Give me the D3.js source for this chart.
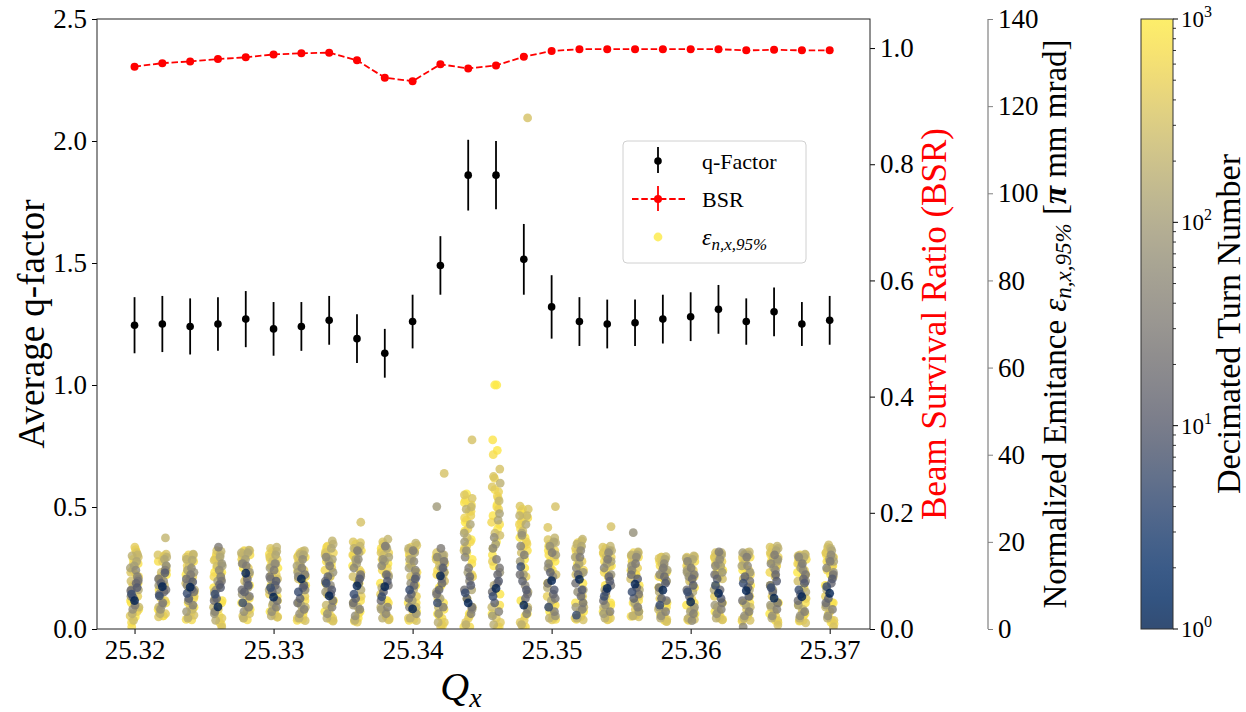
<!DOCTYPE html>
<html><head><meta charset="utf-8">
<script src="https://cdn.jsdelivr.net/npm/d3@7"></script>
<style>
body{margin:0;background:#fff}
svg{display:block}
text{font-family:"Liberation Serif","Times New Roman",serif;fill:#000}
</style>
</head><body>
<svg id="chart" width="1246" height="712"></svg>
<script>
// ---------------- DATA ----------------
const qx = [25.320,25.322,25.324,25.326,25.328,25.330,25.332,25.334,25.336,25.338,25.340,25.342,25.344,
            25.346,25.348,25.350,25.352,25.354,25.356,25.358,25.360,25.362,25.364,25.366,25.368,25.370];
const qFactor = [1.245,1.25,1.24,1.25,1.27,1.23,1.24,1.265,1.19,1.13,1.26,1.49,1.86,
                 1.86,1.515,1.32,1.26,1.25,1.255,1.27,1.28,1.31,1.26,1.30,1.25,1.265];
const qFactorErr = [0.115,0.115,0.115,0.11,0.115,0.11,0.10,0.10,0.10,0.10,0.11,0.12,0.145,
                    0.14,0.145,0.13,0.10,0.10,0.095,0.10,0.10,0.10,0.095,0.10,0.09,0.10];
const bsr = [0.968,0.974,0.977,0.981,0.984,0.989,0.991,0.992,0.979,0.949,0.943,0.972,0.965,
             0.970,0.985,0.995,0.998,0.998,0.998,0.998,0.998,0.998,0.996,0.997,0.996,0.996];
const turnSamples = [1,5,9,12,15,19,24, 29,35,42,50,60,72,86,100,
                     130,170,210,260,310,360,420,490,560,630,700,770,840,900,950,1000];
// normalized emittance [pi mm mrad] per Qx column, one value per entry of turnSamples
const emittance = [
 [6.5,8.0,9.5,7.2,10.5,8.8,11.0, 5.5,12.0,9.0,13.5,4.5,11.5,7.5,14.5, 15.5,3.5,17.0,2.0,16.5,13.0,18.8,4.0,10.0,17.8,0.5,15.0,6.0,12.5,2.8,16.0],
 [9.7,7.6,12.9,10.5,8.5,11.5,9.0, 6.0,13.5,8.0,11.0,4.5,14.5,10.0,5.5, 16.0,3.5,20.9,13.0,17.2,2.8,15.5,6.5,12.0,16.8,4.0,14.0,9.0,16.5,3.0,11.0],
 [9.6,8.2,10.8,7.0,9.2,11.5,8.5, 12.5,5.5,10.0,14.0,6.5,13.0,4.0,11.5, 15.8,2.5,17.2,14.5,3.2,16.5,5.0,12.0,17.0,2.1,13.5,7.0,16.0,3.8,15.0,9.5],
 [5.1,8.0,9.5,7.0,10.2,6.5,11.0, 18.8,12.0,4.0,13.5,9.0,15.0,3.5,11.0, 16.5,2.0,17.8,14.5,0.5,15.8,4.5,12.5,17.2,1.5,16.0,6.0,13.0,3.0,10.0,14.0],
 [12.8,6.0,10.0,8.5,11.5,9.0,7.5, 14.5,5.0,15.0,10.5,4.0,13.0,8.0,16.0, 17.5,2.5,18.1,16.5,3.5,17.0,5.5,14.0,18.0,2.1,15.5,7.0,16.8,4.0,12.0,17.8],
 [7.3,9.5,11.0,8.5,10.0,12.0,6.5, 13.5,5.0,11.5,15.0,4.0,9.0,14.0,6.0, 17.0,3.0,18.8,15.5,2.7,16.5,5.0,12.5,17.5,3.5,14.5,7.5,16.0,4.5,10.5,18.0],
 [11.5,8.5,10.0,7.0,9.5,6.0,12.5, 14.0,4.5,12.0,16.0,3.5,9.0,13.0,5.5, 17.0,2.5,18.0,15.0,1.9,16.5,4.0,13.5,17.5,3.0,15.5,6.5,16.8,2.2,11.0,14.5],
 [7.6,10.5,9.0,12.0,8.0,11.0,6.5, 14.5,5.0,16.5,10.0,3.5,13.0,8.5,15.5, 18.5,2.5,20.2,16.5,1.8,17.5,4.5,14.0,19.0,3.0,15.5,6.0,18.0,2.2,12.0,16.0],
 [9.9,8.0,11.5,7.0,10.5,6.0,12.5, 18.0,4.5,14.0,16.0,3.0,12.0,5.5,15.0, 17.5,2.0,19.0,15.5,24.5,20.0,1.6,13.5,18.5,3.5,16.5,6.5,17.0,2.5,11.0,19.5],
 [9.7,7.4,11.0,8.5,12.5,6.5,10.0, 19.0,5.0,14.5,3.5,16.0,12.0,4.5,15.5, 18.5,2.5,20.6,17.0,2.1,17.5,4.0,14.0,19.5,3.0,16.0,6.0,18.0,2.8,12.5,15.0],
 [4.6,9.0,11.5,8.0,10.0,7.0,12.0, 18.0,13.5,5.0,15.5,10.5,3.5,14.0,6.5, 17.5,2.5,19.7,16.0,1.9,18.0,4.0,13.0,18.8,3.0,15.0,6.0,17.0,2.2,11.5,16.5],
 [12.2,6.0,14.0,9.0,10.5,8.0,15.5, 18.5,5.0,16.5,11.5,3.5,13.0,28.1,7.0, 17.0,1.5,16.0,14.5,35.7,17.5,0.5,12.0,15.5,2.5,13.5,4.5,16.5,1.0,10.0,3.0],
 [6.0,8.3,10.0,7.0,12.0,9.0,5.0, 14.0,3.5,16.5,11.0,18.0,4.5,20.0,13.0, 24.0,1.0,28.0,21.0,43.4,30.8,2.5,26.0,19.0,0.5,29.5,15.0,22.5,3.0,27.0,17.5],
 [9.3,7.5,11.0,6.0,12.5,8.5,14.0, 16.0,4.0,18.5,10.5,21.0,13.0,3.0,19.5, 25.0,1.0,29.4,22.0,36.7,32.6,2.5,27.5,34.6,0.5,40.0,24.0,43.4,41.0,56.0,56.0],
 [5.5,14.3,9.0,11.0,7.0,12.5,8.0, 17.0,3.5,19.0,10.0,21.5,4.5,15.5,12.5, 24.0,1.0,26.0,22.5,117.3,28.2,2.0,20.0,25.0,0.5,27.0,18.0,23.0,3.0,16.0,26.5],
 [11.1,5.0,9.0,13.0,8.0,10.5,7.0, 17.5,4.0,15.0,12.0,19.0,3.0,14.0,6.5, 20.0,2.5,20.9,18.5,28.1,23.3,2.1,16.5,19.5,3.5,17.0,5.5,18.0,2.8,13.5,15.5],
 [11.4,3.2,9.0,12.5,7.5,10.5,6.0, 16.5,4.5,14.0,18.0,8.5,13.0,5.0,15.0, 19.0,2.5,20.6,17.5,2.1,18.5,4.0,15.5,19.8,3.0,16.5,6.0,17.8,2.8,12.5,14.5],
 [9.3,7.5,11.0,8.5,12.0,6.5,10.0, 16.0,4.0,14.0,17.5,5.5,12.5,3.5,15.0, 18.0,2.5,19.0,16.5,23.5,17.5,2.1,14.5,18.5,3.5,15.5,5.5,17.0,3.0,12.0,13.5],
 [10.3,8.5,11.5,7.0,9.5,12.5,8.0, 15.0,5.0,13.5,16.5,22.1,4.0,14.5,6.0, 17.0,3.0,17.7,16.0,2.8,16.8,4.5,14.0,17.5,3.5,15.5,6.5,16.5,3.2,12.5,13.0],
 [8.9,5.5,10.5,7.0,12.0,9.5,6.5, 14.0,4.0,12.5,15.0,3.0,11.0,5.0,13.5, 16.0,2.5,16.6,15.0,1.7,16.2,3.5,13.0,16.5,2.0,14.5,5.0,15.5,2.8,11.5,12.0],
 [6.2,8.5,10.0,7.5,11.5,9.0,12.5, 14.0,3.5,15.5,1.9,12.0,5.0,13.0,4.0, 16.0,2.5,16.8,15.0,2.2,16.5,4.5,13.5,16.2,3.0,14.5,6.0,15.5,2.8,11.0,12.5],
 [8.2,10.0,7.0,11.5,9.0,12.5,6.0, 17.7,4.5,14.5,16.0,3.5,13.0,5.5,15.0, 17.0,2.5,17.5,15.5,2.1,16.5,4.0,14.0,17.2,3.0,15.0,6.0,16.0,2.8,12.0,13.5],
 [8.8,10.5,7.5,12.0,9.5,6.5,11.0, 16.5,4.0,0.5,14.5,3.0,13.0,17.5,5.5, 17.0,2.5,17.7,15.5,2.0,16.5,4.5,13.5,17.2,3.5,15.0,6.0,16.0,2.8,12.0,14.0],
 [7.1,9.5,11.0,8.5,12.5,10.0,6.0, 17.0,4.5,15.0,13.5,3.0,16.0,5.5,14.0, 18.0,2.5,19.0,16.5,0.9,17.5,4.0,14.5,18.5,3.0,15.5,6.0,17.0,2.0,12.5,16.0],
 [7.4,9.0,10.5,8.0,11.5,6.5,12.5, 15.0,4.0,16.5,13.5,3.0,11.0,5.5,14.5, 16.5,2.5,17.2,15.5,1.4,16.8,4.0,13.5,17.0,3.0,15.0,6.0,16.0,2.0,12.0,14.0],
 [8.2,9.7,11.5,7.0,10.5,6.0,12.5, 15.5,4.5,14.0,17.0,3.0,13.0,5.5,16.0, 18.0,2.5,16.5,19.3,0.5,17.5,4.0,14.5,18.5,2.0,15.5,6.0,17.0,1.5,12.5,16.0]
];
// second batch of late turns, one value per entry of turnSamplesLate
const turnSamplesLate = [115,145,180,230,280,340,400,460,530,600,680,750,820,880,930,980];
const emittanceLate = [
 [14.0,9.0,16.8,5.0,11.0,17.5,3.0,7.5,15.0,12.0,1.5,18.2,6.5,10.5,13.5,4.5],
 [14.5,8.0,16.5,5.0,10.0,17.0,3.5,7.0,13.5,11.5,3.0,15.5,6.0,9.5,12.5,4.5],
 [13.5,9.0,16.0,4.5,10.5,17.0,2.8,7.5,14.5,11.0,2.2,15.5,6.0,8.5,12.5,5.0],
 [14.5,8.5,17.0,5.0,11.5,18.0,2.5,7.0,15.5,12.0,1.0,16.5,6.5,9.5,13.0,4.0],
 [15.0,9.5,17.5,5.0,11.0,18.0,3.0,7.5,16.0,12.5,2.5,17.0,6.0,10.0,14.0,4.5],
 [15.0,9.0,17.8,5.5,11.5,18.5,3.2,8.0,16.0,12.5,2.8,17.2,6.5,10.0,14.0,4.0],
 [14.5,9.0,17.2,5.0,11.5,17.8,2.5,7.5,15.5,12.0,2.0,16.5,6.0,10.0,13.5,4.0],
 [16.0,9.5,19.5,5.5,12.0,17.0,2.5,8.0,17.5,13.5,2.0,18.8,6.5,10.5,15.0,4.0],
 [16.0,9.0,18.5,5.0,12.0,19.8,2.2,7.5,17.0,13.0,1.8,18.0,6.0,10.5,14.5,4.0],
 [16.5,9.5,19.0,5.0,12.5,20.0,2.5,8.0,17.5,13.5,2.2,18.5,6.5,10.5,15.0,4.0],
 [16.0,9.0,18.5,5.0,12.0,19.2,2.5,7.5,17.0,13.0,2.0,18.0,6.0,10.0,14.5,4.0],
 [14.0,8.5,17.0,5.0,11.0,16.0,1.5,7.0,15.0,12.5,0.8,16.5,6.0,9.5,13.0,3.5],
 [22.0,9.0,27.5,5.0,18.0,30.0,1.5,12.0,25.5,20.0,0.5,28.5,7.0,16.0,24.5,3.5],
 [26.5,10.0,33.5,5.0,21.5,35.0,1.5,15.5,30.0,24.5,0.5,32.0,8.0,18.5,28.5,3.5],
 [22.0,8.5,26.0,5.0,17.5,27.5,1.5,12.0,24.0,19.5,0.5,25.5,6.5,14.0,21.0,3.5],
 [17.0,9.5,19.8,5.0,12.5,20.5,2.5,7.5,18.0,14.0,2.2,19.0,6.0,10.5,15.5,4.0],
 [16.5,9.0,19.5,5.0,12.5,20.2,2.5,7.5,18.0,13.5,2.2,19.0,6.0,10.5,15.0,4.0],
 [15.5,9.0,18.0,5.0,12.0,18.8,2.5,7.5,16.5,13.0,2.2,17.5,6.0,10.0,14.5,4.0],
 [14.5,9.0,17.0,5.0,11.5,17.5,3.0,7.5,15.5,12.5,2.9,16.5,6.0,10.0,13.5,4.0],
 [13.5,8.5,16.0,4.5,11.0,16.5,2.2,7.0,14.5,12.0,1.8,15.5,6.0,9.5,13.0,3.5],
 [13.5,8.5,16.2,4.5,11.0,16.6,2.2,7.0,14.5,12.0,2.0,15.5,5.5,9.5,13.0,3.5],
 [14.5,9.0,17.0,5.0,11.5,17.5,2.5,7.5,15.5,12.5,2.2,16.5,6.0,10.0,13.5,4.0],
 [14.5,9.0,17.0,5.0,11.5,17.5,2.2,7.5,15.5,12.5,1.8,16.5,6.0,10.0,13.5,3.5],
 [15.5,9.0,18.5,5.0,12.0,18.8,2.0,7.5,16.5,13.0,1.5,17.5,6.0,10.0,14.5,3.5],
 [14.0,8.5,16.8,4.5,11.0,17.0,2.0,7.0,15.0,12.5,1.8,16.0,5.5,9.5,13.0,3.5],
 [15.5,9.0,18.5,5.0,12.0,18.8,2.0,7.5,16.5,13.5,1.2,17.5,6.0,10.0,14.5,3.5]
];
// additional late-turn samples in the resonance columns: [column index, emittance, turn]
const emittanceExtra = [
 [12,29.0,800],[12,27.0,650],[12,25.0,900],[12,23.0,500],[12,20.5,1000],[12,18.5,700],[12,31.0,950],[12,12.5,600],
 [13,28.0,700],[13,26.0,850],[13,23.0,950],[13,20.0,1000],[13,30.5,600],[13,17.0,800],[13,14.5,900],[13,5.5,750],[13,31.5,500],
 [14,24.5,700],[14,21.0,900],[14,19.0,600],[14,27.5,1000]
];
const qxTicks = [25.32,25.33,25.34,25.35,25.36,25.37];
const qTicks = [0,0.5,1.0,1.5,2.0,2.5];
const bsrTicks = [0,0.2,0.4,0.6,0.8,1.0];
const emitTicks = [0,20,40,60,80,100,120,140];
const cbTicks = [1,10,100,1000];

// ---------------- LAYOUT ----------------
const FONT = '"Liberation Serif","Times New Roman",serif';
const svg = d3.select("#chart");
const L = 97, R = 870, T = 19, B = 629;
const emitAxisX = 988;
const cbL = 1141, cbR = 1173;
const tickFont = 27;

const x = d3.scaleLinear().domain([25.3173, 25.3729]).range([L, R]);
const yQ = d3.scaleLinear().domain([0, 2.5]).range([B, T]);
const yB = d3.scaleLinear().domain([0, 1.05]).range([B, T]);
const yE = d3.scaleLinear().domain([0, 140]).range([B, T]);
const turnScale = d3.scaleLog().domain([1, 1000]).range([0, 1]).clamp(true);
const alpha = 0.8;
function blend(c) { // colour at alpha over white
  const r = d3.rgb(c);
  return d3.rgb(r.r*alpha + 255*(1-alpha), r.g*alpha + 255*(1-alpha), r.b*alpha + 255*(1-alpha));
}
const colorOf = t => d3.interpolateCividis(turnScale(t));

// ---------------- SCATTER ----------------
const jitterPx = [0,-3,2.6,-1.3,1.6,-3.8,3.6,0.5,2.8,-3.1,1.3,-1.8,3.8,-3.6,-0.3,2.1,-2.3,3.1,-1.0,3.8,-3.8,0.3,2.6,-1.6,1.6,-2.8,3.6,-3.3,1.3,0.8,-1.3];
const jitterLatePx = [-4.2,3.9,-2.5,4.4,-3.6,2.2,-4.4,3.2,-1.2,4.0,-3.0,1.0,-4.0,3.5,-2.0,4.2];
let pts = [];
emittance.forEach((col, ci) => col.forEach((e, k) => pts.push({q: qx[ci], e, t: turnSamples[k], j: jitterPx[k]})));
emittanceLate.forEach((col, ci) => col.forEach((e, k) => pts.push({q: qx[ci], e, t: turnSamplesLate[k], j: jitterLatePx[(k + ci) % jitterLatePx.length]})));
emittanceExtra.forEach((d, k) => pts.push({q: qx[d[0]], e: d[1], t: d[2], j: jitterPx[(k*3+5) % jitterPx.length]}));
pts.sort((a, b) => b.t - a.t);

svg.append("clipPath").attr("id","plotclip").append("rect")
  .attr("x", L).attr("y", T).attr("width", R-L).attr("height", B-T);

svg.append("g").attr("clip-path","url(#plotclip)").selectAll("circle.sc").data(pts).join("circle")
  .attr("cx", d => x(d.q) + d.j).attr("cy", d => yE(d.e)).attr("r", 4.4)
  .attr("fill", d => colorOf(d.t)).attr("fill-opacity", alpha);

// ---------------- Q-FACTOR ERRORBARS ----------------
const gq = svg.append("g");
gq.selectAll("line").data(qx).join("line")
  .attr("x1", d => x(d)).attr("x2", d => x(d))
  .attr("y1", (d,i) => yQ(qFactor[i] - qFactorErr[i])).attr("y2", (d,i) => yQ(qFactor[i] + qFactorErr[i]))
  .attr("stroke", "#000").attr("stroke-width", 1.8);
gq.selectAll("circle").data(qx).join("circle")
  .attr("cx", d => x(d)).attr("cy", (d,i) => yQ(qFactor[i])).attr("r", 3.8).attr("fill", "#000");

// ---------------- BSR ----------------
const line = d3.line().x((d,i) => x(qx[i])).y(d => yB(d));
svg.append("path").datum(bsr).attr("d", line).attr("fill","none")
  .attr("stroke","#ff0000").attr("stroke-width",1.8).attr("stroke-dasharray","6.5,2.8");
svg.append("g").selectAll("circle").data(bsr).join("circle")
  .attr("cx", (d,i) => x(qx[i])).attr("cy", d => yB(d)).attr("r", 4).attr("fill", "#ff0000");

// ---------------- AXES ----------------
function styleAxis(g, color) {
  g.attr("font-family", null).attr("font-size", null);
  g.select(".domain").remove();
  g.selectAll(".tick line").attr("stroke", color || "#000").attr("stroke-width", 1);
  g.selectAll(".tick text").style("font-size", tickFont + "px").style("font-family", FONT).style("fill","#000");
}
const gx = svg.append("g").attr("transform", `translate(0,${B})`)
  .call(d3.axisBottom(x).tickValues(qxTicks).tickFormat(d3.format(".2f")).tickSize(5).tickPadding(6));
styleAxis(gx);
const gy = svg.append("g").attr("transform", `translate(${L},0)`)
  .call(d3.axisLeft(yQ).tickValues(qTicks).tickFormat(d3.format(".1f")).tickSize(5).tickPadding(5));
styleAxis(gy);
const gb = svg.append("g").attr("transform", `translate(${R},0)`)
  .call(d3.axisRight(yB).tickValues(bsrTicks).tickFormat(d3.format(".1f")).tickSize(5).tickPadding(5));
styleAxis(gb);
const ge = svg.append("g").attr("transform", `translate(${emitAxisX},0)`)
  .call(d3.axisRight(yE).tickValues(emitTicks).tickFormat(d3.format("d")).tickSize(5).tickPadding(5));
styleAxis(ge, "#808080");
svg.append("line").attr("x1", emitAxisX).attr("x2", emitAxisX).attr("y1", T).attr("y2", B)
  .attr("stroke", "#808080").attr("stroke-width", 1.2);

// frame
svg.append("rect").attr("x", L).attr("y", T).attr("width", R-L).attr("height", B-T)
  .attr("fill","none").attr("stroke","#222").attr("stroke-width",1);

// ---------------- AXIS LABELS ----------------
svg.append("text").attr("transform", `translate(44,${(T+B)/2}) rotate(-90)`)
  .attr("text-anchor","middle").style("font-size","37px").text("Average q-factor");
svg.append("text").attr("transform", `translate(946,${(T+B)/2}) rotate(-90)`)
  .attr("text-anchor","middle").style("font-size","35px").style("fill","#ff0000").text("Beam Survival Ratio (BSR)");
const el = svg.append("text").attr("transform", `translate(1066,${(T+B)/2}) rotate(-90)`)
  .attr("text-anchor","middle").style("font-size","33px");
el.append("tspan").text("Normalized Emitance ");
el.append("tspan").style("font-style","italic").text("ε");
el.append("tspan").style("font-style","italic").style("font-size","23px").attr("dy",5).text("n,x,95%");
el.append("tspan").attr("dy",-5).text(" [");
el.append("tspan").style("font-style","italic").style("font-weight","bold").text("π");
el.append("tspan").text(" mm mrad]");

const xl = svg.append("text").attr("x", 461).attr("y", 700).attr("text-anchor","middle").style("font-size","40px");
xl.append("tspan").style("font-style","italic").text("Q");
xl.append("tspan").style("font-style","italic").style("font-size","28px").attr("dy",7).text("x");

// ---------------- COLORBAR ----------------
const cbScale = d3.scaleLog().domain([1,1000]).range([B, T]);
const defs = svg.append("defs");
const grad = defs.append("linearGradient").attr("id","cbgrad").attr("x1",0).attr("y1",1).attr("x2",0).attr("y2",0);
d3.range(0, 1.0001, 0.05).forEach(s => grad.append("stop").attr("offset", s).attr("stop-color", blend(d3.interpolateCividis(s)).formatHex()));
svg.append("rect").attr("x", cbL).attr("y", T).attr("width", cbR-cbL).attr("height", B-T)
  .attr("fill","url(#cbgrad)").attr("stroke","#333").attr("stroke-width",1);
const minor = [];
for (let dec = 1; dec < 1000; dec *= 10) for (let m = 2; m <= 9; m++) minor.push(dec*m);
svg.append("g").selectAll("line").data(minor).join("line")
  .attr("x1", cbR).attr("x2", cbR+3).attr("y1", d => cbScale(d)).attr("y2", d => cbScale(d))
  .attr("stroke","#000").attr("stroke-width",0.8);
const gcb = svg.append("g");
gcb.selectAll("line").data(cbTicks).join("line")
  .attr("x1", cbR).attr("x2", cbR+5).attr("y1", d => cbScale(d)).attr("y2", d => cbScale(d))
  .attr("stroke","#000").attr("stroke-width",1);
const cbt = gcb.selectAll("text").data(cbTicks).join("text")
  .attr("x", cbR+8).attr("y", d => cbScale(d)+8).style("font-size","23px");
cbt.append("tspan").text("10");
cbt.append("tspan").style("font-size","16px").attr("dy",-10).text(d => Math.round(Math.log10(d)));
svg.append("text").attr("transform", `translate(1240,${(T+B)/2}) rotate(-90)`)
  .attr("text-anchor","middle").style("font-size","34px").text("Decimated Turn Number");

// ---------------- LEGEND ----------------
const lg = svg.append("g");
lg.append("rect").attr("x",623).attr("y",141).attr("width",183).attr("height",122).attr("rx",4)
  .attr("fill","#fff").attr("fill-opacity",0.85).attr("stroke","#d0d0d0").attr("stroke-width",1);
lg.append("line").attr("x1",658).attr("x2",658).attr("y1",147).attr("y2",173).attr("stroke","#000").attr("stroke-width",1.8);
lg.append("circle").attr("cx",658).attr("cy",161).attr("r",3.8).attr("fill","#000");
lg.append("text").attr("x",702).attr("y",169).style("font-size","22px").text("q-Factor");
lg.append("line").attr("x1",632).attr("x2",686).attr("y1",199).attr("y2",199).attr("stroke","#ff0000").attr("stroke-width",1.8).attr("stroke-dasharray","6.5,2.8");
lg.append("line").attr("x1",658).attr("x2",658).attr("y1",186).attr("y2",211).attr("stroke","#ff0000").attr("stroke-width",1.8);
lg.append("circle").attr("cx",658).attr("cy",199).attr("r",4).attr("fill","#ff0000");
lg.append("text").attr("x",702).attr("y",207).style("font-size","22px").text("BSR");
lg.append("circle").attr("cx",658).attr("cy",237).attr("r",4.4).attr("fill", colorOf(1000)).attr("fill-opacity",alpha);
const le = lg.append("text").attr("x",702).attr("y",245).style("font-size","24px").style("font-style","italic");
le.append("tspan").text("ε");
le.append("tspan").style("font-size","17px").attr("dy",5).text("n,x,95%");
</script>
</body></html>
